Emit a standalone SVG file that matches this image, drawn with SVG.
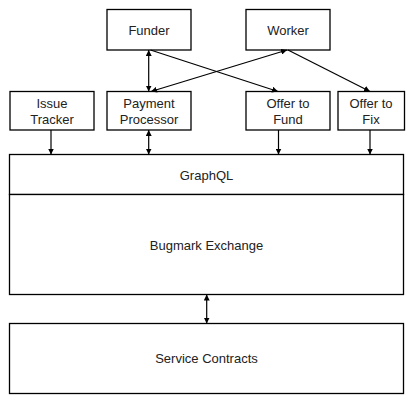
<svg xmlns="http://www.w3.org/2000/svg" width="419" height="402" viewBox="0 0 419 402">
<style>
.box{fill:#fff;stroke:#000;stroke-width:1.3}
.t{font-family:"Liberation Sans",Arial,sans-serif;font-size:13px;fill:#222;text-anchor:middle}
.c{stroke:#000;stroke-width:1.2;fill:none}
</style>
<defs>
<marker id="ah" viewBox="0 0 10 10" refX="10" refY="5" markerWidth="6" markerHeight="6" markerUnits="userSpaceOnUse" orient="auto-start-reverse">
<path d="M0,0 L10,5 L0,10 z" fill="#000"/>
</marker>
</defs>
<rect width="419" height="402" fill="#fff"/>
<g id="funder"><rect class="box" x="107" y="9.5" width="84" height="40.5"/><text class="t" x="149" y="34.5">Funder</text></g>
<g id="worker"><rect class="box" x="246" y="9.5" width="84" height="40.5"/><text class="t" x="288" y="34.5">Worker</text></g>
<g id="issue-tracker"><rect class="box" x="10" y="91.5" width="84" height="38.5"/><text class="t" x="52" y="107.5">Issue</text><text class="t" x="52" y="123.5">Tracker</text></g>
<g id="payment-processor"><rect class="box" x="107" y="91.5" width="84" height="38.5"/><text class="t" x="149" y="107.5">Payment</text><text class="t" x="149" y="123.5">Processor</text></g>
<g id="offer-to-fund"><rect class="box" x="246" y="91.5" width="84" height="38.5"/><text class="t" x="288" y="107.5">Offer to</text><text class="t" x="288" y="123.5">Fund</text></g>
<g id="offer-to-fix"><rect class="box" x="338" y="91.5" width="66.5" height="38.5"/><text class="t" x="371" y="107.5">Offer to</text><text class="t" x="371" y="123.5">Fix</text></g>
<g id="graphql"><rect class="box" x="9.5" y="154.5" width="394" height="40"/><text class="t" x="206.5" y="180">GraphQL</text></g>
<g id="bugmark-exchange"><rect class="box" x="9.5" y="194.5" width="394" height="100"/><text class="t" x="206.5" y="250">Bugmark Exchange</text></g>
<g id="service-contracts"><rect class="box" x="9.5" y="323.5" width="394" height="70"/><text class="t" x="206.5" y="363">Service Contracts</text></g>
<g id="connectors">
<line class="c" x1="148.7" y1="50" x2="148.7" y2="91.5" marker-start="url(#ah)" marker-end="url(#ah)"/>
<line class="c" x1="150.5" y1="50" x2="278" y2="91.5" marker-end="url(#ah)"/>
<line class="c" x1="287" y1="50" x2="151" y2="91.5" marker-start="url(#ah)" marker-end="url(#ah)"/>
<line class="c" x1="288" y1="50" x2="370" y2="91.5" marker-end="url(#ah)"/>
<line class="c" x1="51" y1="130" x2="51" y2="154.5" marker-end="url(#ah)"/>
<line class="c" x1="148.7" y1="130" x2="148.7" y2="154.5" marker-start="url(#ah)" marker-end="url(#ah)"/>
<line class="c" x1="278.5" y1="130" x2="278.5" y2="154.5" marker-end="url(#ah)"/>
<line class="c" x1="370" y1="130" x2="370" y2="154.5" marker-end="url(#ah)"/>
<line class="c" x1="206.7" y1="294.5" x2="206.7" y2="323.5" marker-start="url(#ah)" marker-end="url(#ah)"/>
</g>
</svg>
